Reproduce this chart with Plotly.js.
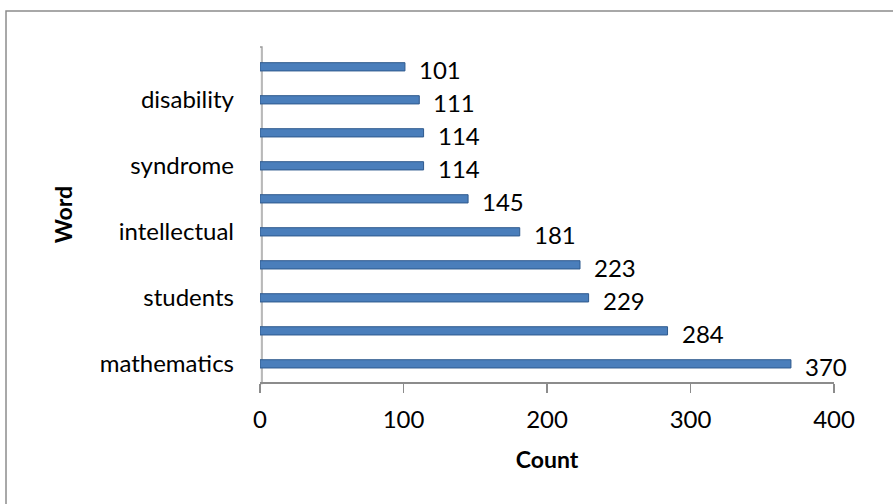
<!DOCTYPE html>
<html><head><meta charset="utf-8">
<script src="https://cdn.plot.ly/plotly-3.0.1.min.js"></script>
<style>html,body{margin:0;padding:0;background:#fff}#chart{width:893px;height:504px}</style>
</head><body><div id="chart"></div>
<script>
// bottom to top
const categories = ["mathematics", "", "students", "", "intellectual", "", "syndrome", "", "disability", ""];
const counts = [370, 284, 229, 223, 181, 145, 114, 114, 111, 101];
const xTicks = [0, 100, 200, 300, 400];

const pos = categories.map((c, i) => i);
const shownVals = pos.filter(i => categories[i] !== "");
const shownText = shownVals.map(i => categories[i]);

const font = "Lato, 'Open Sans', sans-serif";

const trace = {
  type: "bar", orientation: "h",
  x: counts, y: pos,
  width: 0.25,
  marker: {color: "#4a7ebb", line: {color: "#2f5a8e", width: 1}},
  hoverinfo: "x+y"
};

const labels = counts.map((v, i) => ({
  x: v, y: i, xref: "x", yref: "y", text: String(v), showarrow: false,
  xanchor: "left", yanchor: "middle", xshift: 12, yshift: -3,
  font: {family: font, size: 24, color: "#000"}
}));

const layout = {
  width: 893, height: 504,
  margin: {l: 260, r: 59, t: 47, b: 122},
  paper_bgcolor: "#fff", plot_bgcolor: "#fff",
  showlegend: false,
  font: {family: font, size: 24, color: "#000"},
  xaxis: {
    range: [0, 400], tickvals: xTicks, ticktext: xTicks.map(String),
    showgrid: false, zeroline: false,
    showline: true, linecolor: "#8c8c8c", linewidth: 1.5,
    ticks: "outside", ticklen: 9, tickcolor: "#8c8c8c", tickwidth: 1.5,
    ticklabelstandoff: 7,
    tickfont: {family: font, size: 24},
    title: {text: "<b>Count</b>", font: {family: font, size: 23}, standoff: 19}
  },
  yaxis: {
    range: [-0.55, 9.6],
    tickvals: shownVals, ticktext: shownText,
    showgrid: false, zeroline: false, showline: false,
    ticks: "", ticklabelstandoff: 25,
    tickfont: {family: font, size: 24},
    title: {text: "<b>Word</b>", font: {family: font, size: 23}, standoff: 20}
  },
  annotations: labels,
  shapes: [
    {type: "rect", xref: "paper", yref: "paper", x0: -0.4425, x1: 1.12, y0: -0.4, y1: 1.1075,
     line: {color: "#8c8c8c", width: 1.5}, fillcolor: "rgba(0,0,0,0)"},
    {type: "rect", xref: "x", yref: "paper", xsizemode: "pixel", xanchor: 0, x0: -4, x1: 2,
     y0: -0.005, y1: 1.0, line: {color: "#9a9a9a", width: 1.3}, fillcolor: "#f2f2f2", layer: "below"}
  ]
};

Plotly.newPlot("chart", [trace], layout, {displayModeBar: false, staticPlot: true});
</script></body></html>
